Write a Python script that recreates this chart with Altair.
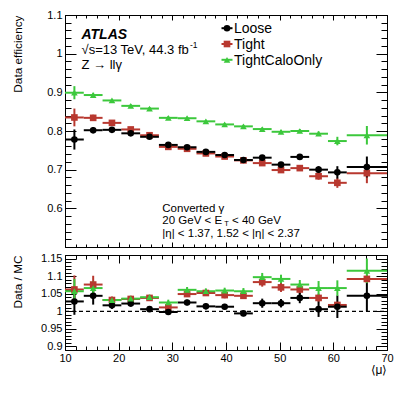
import altair as alt
import pandas as pd

# ---------------- data ----------------
bin_edges = [10, 13.5, 17, 20.5, 24, 27.5, 31, 34.5, 38, 41.5, 45, 48.5, 52, 55.5, 59, 62.5, 70]
mu_centers = [11.75, 15.25, 18.75, 22.25, 25.75, 29.25, 32.75, 36.25, 39.75, 43.25,
              46.75, 50.25, 53.75, 57.25, 60.75, 66.25]

loose_eff = [0.778, 0.802, 0.803, 0.794, 0.785, 0.764, 0.758, 0.746, 0.738, 0.725,
             0.731, 0.713, 0.733, 0.700, 0.693, 0.707]
loose_err = [0.026, 0.008, 0.005, 0.005, 0.005, 0.005, 0.005, 0.005, 0.005, 0.005,
             0.006, 0.006, 0.007, 0.009, 0.016, 0.027]
tight_eff = [0.835, 0.834, 0.821, 0.804, 0.789, 0.759, 0.754, 0.742, 0.734, 0.724,
             0.717, 0.699, 0.704, 0.683, 0.666, 0.691]
tight_err = [0.023, 0.008, 0.005, 0.005, 0.005, 0.005, 0.005, 0.005, 0.005, 0.005,
             0.006, 0.006, 0.007, 0.009, 0.013, 0.026]
calo_eff = [0.899, 0.893, 0.879, 0.865, 0.858, 0.834, 0.833, 0.825, 0.817, 0.812,
            0.805, 0.798, 0.800, 0.793, 0.774, 0.789]
calo_err = [0.017, 0.006, 0.004, 0.004, 0.004, 0.004, 0.004, 0.004, 0.004, 0.004,
            0.004, 0.005, 0.005, 0.006, 0.011, 0.024]

loose_ratio = [1.028, 1.044, 1.017, 1.022, 1.006, 0.998, 1.025, 1.014, 1.013, 0.994,
               1.023, 1.023, 1.038, 1.006, 1.013, 1.044]
loose_ratio_err = [0.038, 0.025, 0.010, 0.009, 0.008, 0.008, 0.008, 0.008, 0.008, 0.008,
                   0.013, 0.012, 0.015, 0.022, 0.032, 0.044]
tight_ratio = [1.062, 1.076, 1.032, 1.035, 1.038, 1.011, 1.049, 1.052, 1.046, 1.044,
               1.083, 1.068, 1.062, 1.038, 1.018, 1.092]
tight_ratio_err = [0.040, 0.025, 0.010, 0.009, 0.008, 0.008, 0.008, 0.008, 0.009, 0.009,
                   0.013, 0.013, 0.013, 0.012, 0.008, 0.012]
calo_ratio = [1.057, 1.066, 1.032, 1.036, 1.040, 1.025, 1.061, 1.057, 1.059, 1.057,
              1.097, 1.092, 1.076, 1.066, 1.066, 1.115]
calo_ratio_err = [0.035, 0.020, 0.008, 0.008, 0.007, 0.008, 0.008, 0.008, 0.008, 0.009,
                  0.012, 0.012, 0.013, 0.020, 0.022, 0.035]

series_names = ["Loose", "Tight", "TightCaloOnly"]
series_colors = ["#000000", "#b8382f", "#3cc83c"]
series_shapes = ["circle", "square", "triangle-up"]
draw_order = ["Tight", "Loose", "TightCaloOnly"]

x_major = [10, 20, 30, 40, 50, 60, 70]
x_minor = list(range(10, 71, 2))
y_top_labels = [0.6, 0.7, 0.8, 0.9, 1.0, 1.1]
y_top_minor = [round(0.5 + 0.02 * i, 2) for i in range(31)]
y_bot_labels = [0.9, 0.95, 1.0, 1.05, 1.1, 1.15]
y_bot_minor = [round(0.89 + 0.01 * i, 2) for i in range(28)]
ref_line = pd.DataFrame({"x0": [10], "x1": [70], "one": [1.0]})

FONT = "Liberation Sans"


def long_frame(vals, errs):
    rows = []
    for s in draw_order:
        for i, m in enumerate(mu_centers):
            v, e = vals[s][i], errs[s][i]
            rows.append(dict(series=s, mu=m, lo=bin_edges[i], hi=bin_edges[i + 1],
                             val=v, elo=v - e, ehi=v + e))
    return pd.DataFrame(rows)


df_top = long_frame({"Loose": loose_eff, "Tight": tight_eff, "TightCaloOnly": calo_eff},
                    {"Loose": loose_err, "Tight": tight_err, "TightCaloOnly": calo_err})
df_bot = long_frame({"Loose": loose_ratio, "Tight": tight_ratio, "TightCaloOnly": calo_ratio},
                    {"Loose": loose_ratio_err, "Tight": tight_ratio_err, "TightCaloOnly": calo_ratio_err})

xs = alt.Scale(domain=[10, 70], nice=False, zero=False)
ys_top = alt.Scale(domain=[0.5, 1.1], nice=False, zero=False)
ys_bot = alt.Scale(domain=[0.89, 1.16], nice=False, zero=False)
cscale = alt.Scale(domain=series_names, range=series_colors)
sscale = alt.Scale(domain=series_names, range=series_shapes)


def ax(orient, values, size, labels=False, **kw):
    return alt.Axis(orient=orient, values=values, tickSize=size, offset=-size,
                    labels=labels, domain=False, grid=False, ticks=True, **kw)


ylab = dict(labelExpr="toString(datum.value)", labelPadding=3, labelFontSize=11, labelFont=FONT,
            titleAnchor="end", titleX=-58.5, titleBaseline="middle",
            titleFontSize=11.8, titleFont=FONT, titleFontWeight="normal")

W = 322


def panel(df, ys, ymaj, ymin, ytitle, xmaj_size, xmin_size, bottom):
    col = alt.Color("series:N", scale=cscale, legend=None)
    shp = alt.Shape("series:N", scale=sscale, legend=None)
    if bottom:
        xlab = dict(labels=True, labelExpr="toString(datum.value)", labelPadding=2,
                    labelFontSize=11, labelFont=FONT, labelFlush=False, labelOverlap=False,
                    titleAnchor="end", titlePadding=1, titleFontSize=12, titleFont=FONT,
                    titleFontWeight="normal")
        xtitle = "⟨μ⟩"
    else:
        xlab = {}
        xtitle = None

    hb = alt.Chart(df).mark_rule(strokeWidth=2, clip=True).encode(
        x=alt.X("lo:Q", scale=xs, axis=ax("bottom", x_major, xmaj_size, **xlab), title=xtitle),
        x2="hi:Q",
        y=alt.Y("val:Q", scale=ys, axis=ax("left", ymaj, 11, labels=True, **ylab), title=ytitle),
        color=col,
    )
    vb = alt.Chart(df).mark_rule(strokeWidth=2, clip=True).encode(
        x=alt.X("mu:Q", scale=xs, axis=ax("bottom", x_minor, xmin_size), title=None),
        y=alt.Y("elo:Q", scale=ys, axis=ax("left", ymin, 6), title=None),
        y2="ehi:Q",
        color=col,
    )
    pts = alt.Chart(df).mark_point(filled=True, opacity=1, size=44, clip=True).encode(
        x=alt.X("mu:Q", scale=xs, axis=ax("top", x_major, xmaj_size), title=None),
        y=alt.Y("val:Q", scale=ys, axis=ax("right", ymaj, 11), title=None),
        color=col, shape=shp,
    )
    layers = [hb, vb]
    if bottom:
        line = alt.Chart(ref_line).mark_rule(color="black", strokeDash=[4, 3], strokeWidth=1.2).encode(
            x=alt.X("x0:Q", scale=xs, axis=ax("top", x_minor, xmin_size), title=None),
            x2="x1:Q",
            y=alt.Y("one:Q", scale=ys, axis=ax("right", ymin, 6), title=None),
        )
        layers = [line] + layers + [pts]
    else:
        inv = alt.Chart(df).mark_point(opacity=0).encode(
            x=alt.X("mu:Q", scale=xs, axis=ax("top", x_minor, xmin_size), title=None),
            y=alt.Y("val:Q", scale=ys, axis=ax("right", ymin, 6), title=None),
        )
        layers = layers + [pts, inv]
    return layers


def txt(text, x, y, size, **kw):
    return alt.Chart(pd.DataFrame({"t": [text]})).mark_text(
        align="left", baseline="alphabetic", fontSize=size, font=FONT, color="black", **kw
    ).encode(x=alt.value(x), y=alt.value(y), text="t:N")


annotations = [
    txt("ATLAS", 16.5, 24, 14, fontWeight="bold", fontStyle="italic"),
    txt("√s=13 TeV, 44.3 fb", 16.5, 38.5, 13),
    txt("-1", 125, 33, 8.5),
    txt("Z → llγ", 16.5, 53.5, 13),
    txt("Converted γ", 97.3, 196.5, 11.5),
    txt("20 GeV < E", 97.3, 208.5, 11.5),
    txt("T", 159.2, 210.5, 7.5),
    txt("< 40 GeV", 167, 208.5, 11.5),
    txt("|η| < 1.37, 1.52 < |η| < 2.37", 97.3, 222, 11.5),
]

# legend (ROOT style: marker with a short horizontal error line, then the name)
legend_layers = []
for i, (name, colr, shape) in enumerate(zip(series_names, series_colors, series_shapes)):
    yc = 13.2 + 15.8 * i
    one = pd.DataFrame({"series": [name]})
    legend_layers.append(
        alt.Chart(one).mark_rule(color=colr, strokeWidth=2).encode(
            x=alt.value(156.5), x2=alt.value(167.5), y=alt.value(yc))
    )
    legend_layers.append(
        alt.Chart(one).mark_point(filled=True, opacity=1, size=44, color=colr, shape=shape).encode(
            x=alt.value(162), y=alt.value(yc))
    )
    legend_layers.append(
        alt.Chart(one).mark_text(align="left", baseline="alphabetic", fontSize=14, font=FONT,
                                 color="black").encode(
            x=alt.value(169), y=alt.value(yc + 5), text="series:N")
    )

top = alt.layer(*(panel(df_top, ys_top, y_top_labels, y_top_minor, "Data efficiency", 5, 3, False)
                  + annotations + legend_layers)
                ).resolve_axis(x="independent", y="independent").properties(width=W, height=232)

bottom = alt.layer(*panel(df_bot, ys_bot, y_bot_labels, y_bot_minor, "Data / MC", 8, 4, True)
                   ).resolve_axis(x="independent", y="independent").properties(width=W, height=95)

chart = alt.vconcat(top, bottom, spacing=4).resolve_scale(y="independent").properties(
    padding={"left": 4, "top": 0, "right": 5, "bottom": 0}
).configure(font=FONT).configure_view(stroke="black", strokeWidth=1).configure_axis(
    grid=False, tickColor="black", labelColor="black", titleColor="black", tickWidth=1
)

chart.save("out.html", embed_options={"renderer": "svg", "actions": False})
